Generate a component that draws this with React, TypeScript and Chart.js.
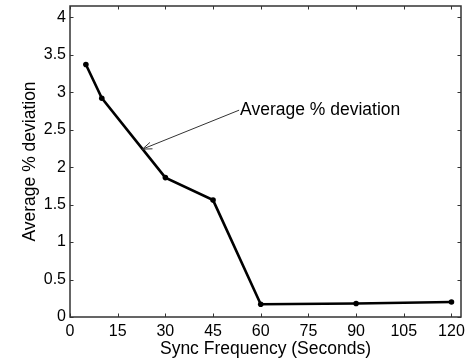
import React, { useEffect, useRef } from "react";
import { Chart, registerables } from "chart.js";

Chart.register(...registerables);

const syncFrequency = [5, 10, 30, 45, 60, 90, 120];
const avgDeviation = [3.37, 2.92, 1.86, 1.56, 0.17, 0.18, 0.2];
const xTicks = [0, 15, 30, 45, 60, 75, 90, 105, 120];
const yTicks = [0, 0.5, 1, 1.5, 2, 2.5, 3, 3.5, 4];
const xTitle = "Sync Frequency (Seconds)";
const yTitle = "Average % deviation";
const annotationText = "Average % deviation";
const annotationTip = [22.8, 2.24];
const annotationAnchor = [53.2, 2.76];

const FONT = "'Liberation Sans', Arial, Helvetica, sans-serif";
const AXIS = "#333333";

const boxPlugin = {
  id: "matlabBox",
  afterDraw(chart: any) {
    const { ctx, chartArea: a, scales } = chart;
    const xs = scales.x;
    const ys = scales.y;
    ctx.save();
    ctx.strokeStyle = AXIS;
    ctx.lineWidth = 1.5;
    ctx.strokeRect(a.left, a.top, a.right - a.left, a.bottom - a.top);
    ctx.lineWidth = 1;
    const tl = 3.5;
    ctx.beginPath();
    xTicks.forEach((v) => {
      const px = Math.round(xs.getPixelForValue(v)) + 0.5;
      ctx.moveTo(px, a.bottom);
      ctx.lineTo(px, a.bottom - tl);
      ctx.moveTo(px, a.top);
      ctx.lineTo(px, a.top + tl);
    });
    yTicks.forEach((v) => {
      const py = Math.round(ys.getPixelForValue(v)) + 0.5;
      ctx.moveTo(a.left, py);
      ctx.lineTo(a.left + tl, py);
      ctx.moveTo(a.right, py);
      ctx.lineTo(a.right - tl, py);
    });
    ctx.stroke();

    // annotation arrow
    const tx = xs.getPixelForValue(annotationTip[0]);
    const ty = ys.getPixelForValue(annotationTip[1]);
    const ax = xs.getPixelForValue(annotationAnchor[0]);
    const ay = ys.getPixelForValue(annotationAnchor[1]);
    ctx.strokeStyle = "#333";
    ctx.lineWidth = 1;
    ctx.beginPath();
    ctx.moveTo(ax, ay);
    ctx.lineTo(tx, ty);
    const ang = Math.atan2(ty - ay, tx - ax);
    const hl = 10;
    const spread = 0.35;
    ctx.moveTo(tx, ty);
    ctx.lineTo(tx - hl * Math.cos(ang - spread), ty - hl * Math.sin(ang - spread));
    ctx.moveTo(tx, ty);
    ctx.lineTo(tx - hl * Math.cos(ang + spread), ty - hl * Math.sin(ang + spread));
    ctx.stroke();
    ctx.fillStyle = "#000";
    ctx.font = `17.5px ${FONT}`;
    ctx.textAlign = "left";
    ctx.textBaseline = "middle";
    ctx.fillText(annotationText, ax + 1, ay);
    ctx.restore();
  },
};

export default function App() {
  const ref = useRef<HTMLCanvasElement>(null);
  useEffect(() => {
    if (!ref.current) return;
    const chart = new Chart(ref.current, {
      type: "line",
      data: {
        datasets: [
          {
            data: syncFrequency.map((x, i) => ({ x, y: avgDeviation[i] })),
            borderColor: "#000",
            backgroundColor: "#000",
            borderWidth: 2.6,
            pointRadius: 2.8,
            pointBackgroundColor: "#000",
            pointBorderWidth: 0,
            tension: 0,
          },
        ],
      },
      options: {
        animation: false,
        responsive: false,
        devicePixelRatio: 1,
        layout: { padding: { top: 6, right: 1, left: 0, bottom: 0 } },
        plugins: { legend: { display: false }, tooltip: { enabled: false } },
        scales: {
          x: {
            type: "linear",
            min: 0,
            max: 123,
            grid: { display: false, drawTicks: false },
            border: { display: false },
            afterBuildTicks: (s: any) => {
              s.ticks = xTicks.map((v) => ({ value: v }));
            },
            afterFit: (s: any) => {
              s.height = 47;
              s.paddingLeft = 0;
              s.paddingRight = 0;
            },
            ticks: {
              color: "#000",
              font: { family: FONT, size: 16 },
              padding: 5,
              maxRotation: 0,
              autoSkip: false,
              callback: (v: any) => String(v),
            },
            title: {
              display: true,
              text: xTitle,
              color: "#000",
              font: { family: FONT, size: 17.5 },
              padding: { top: 0, bottom: 4 },
            },
          },
          y: {
            type: "linear",
            min: 0,
            max: 4.15,
            grid: { display: false, drawTicks: false },
            border: { display: false },
            afterBuildTicks: (s: any) => {
              s.ticks = yTicks.map((v) => ({ value: v }));
            },
            afterFit: (s: any) => {
              s.width = 70;
              s.paddingTop = 0;
              s.paddingBottom = 0;
            },
            ticks: {
              color: "#000",
              font: { family: FONT, size: 16 },
              padding: 4,
              autoSkip: false,
              callback: (v: any) => String(v),
            },
            title: {
              display: true,
              text: yTitle,
              color: "#000",
              font: { family: FONT, size: 17.5 },
              padding: { top: 20, bottom: 0 },
            },
          },
        },
      },
      plugins: [boxPlugin],
    });
    return () => chart.destroy();
  }, []);
  return (
    <div style={{ position: "fixed", left: 0, top: 0, width: 465, height: 364, background: "#fff" }}>
      <canvas ref={ref} width={465} height={364} style={{ width: 465, height: 364 }} />
    </div>
  );
}
